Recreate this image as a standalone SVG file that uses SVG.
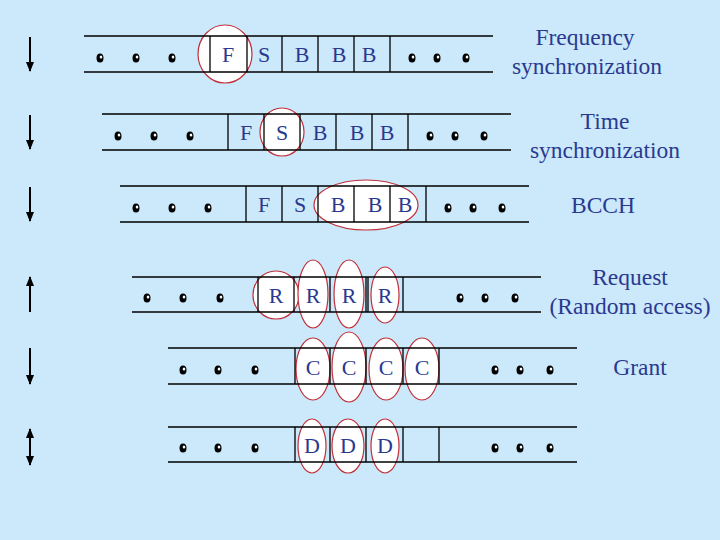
<svg xmlns="http://www.w3.org/2000/svg" width="720" height="540" viewBox="0 0 720 540">
<defs>
<style>
.ln{stroke:#000;stroke-width:1.3;fill:none}
.t{font-family:"Liberation Serif",serif;font-size:22px;fill:#2a3990;text-anchor:middle}
.lb{font-family:"Liberation Serif",serif;font-size:23.5px;fill:#2a3990;text-anchor:middle}
.c{fill:#fff;stroke:#c0303a;stroke-width:1.2}
.d{fill:#000}
</style>
<marker id="ah" viewBox="0 0 10 10" refX="9" refY="5" markerWidth="5" markerHeight="5" orient="auto-start-reverse"><path d="M0,1 L10,5 L0,9 Z" fill="#000"/></marker>
<g id="dot"><ellipse cx="0" cy="0" rx="3.5" ry="4.5" class="d"/><ellipse cx="1" cy="-1" rx="1.3" ry="1.5" fill="#fff"/></g>
</defs>
<rect width="720" height="540" fill="#cce8fb"/>
<g id="connectors" stroke="#000" stroke-width="2">
<line x1="30" y1="37" x2="30" y2="71" marker-end="url(#ah)"/>
<line x1="30" y1="115" x2="30" y2="149" marker-end="url(#ah)"/>
<line x1="30" y1="187" x2="30" y2="221" marker-end="url(#ah)"/>
<line x1="30" y1="312" x2="30" y2="277" marker-end="url(#ah)"/>
<line x1="30" y1="348" x2="30" y2="384" marker-end="url(#ah)"/>
<line x1="30" y1="429" x2="30" y2="465" marker-start="url(#ah)" marker-end="url(#ah)"/>
</g>
<g id="row1">
<ellipse class="c" cx="225" cy="54" rx="27" ry="29"/>
<path class="ln" d="M84,36H493M84,72H493M210,36V72M247,36V72M282,36V72M318,36V72M354,36V72M390,36V72"/>
<text class="t" x="228" y="62">F</text><text class="t" x="264" y="62">S</text><text class="t" x="302" y="62">B</text><text class="t" x="339" y="62">B</text><text class="t" x="369" y="62">B</text>
<use href="#dot" x="100" y="58"/><use href="#dot" x="136" y="58"/><use href="#dot" x="172" y="58"/><use href="#dot" x="412" y="58"/><use href="#dot" x="437" y="58"/><use href="#dot" x="466" y="58"/>
<text class="lb" x="585" y="45">Frequency</text><text class="lb" x="587" y="74">synchronization</text>
</g>
<g id="row2">
<ellipse class="c" cx="282" cy="132" rx="22" ry="24"/>
<path class="ln" d="M102,114H511M102,150H511M228,114V150M264,114V150M300,114V150M336,114V150M372,114V150M408,114V150"/>
<text class="t" x="246" y="140">F</text><text class="t" x="282" y="140">S</text><text class="t" x="320" y="140">B</text><text class="t" x="357" y="140">B</text><text class="t" x="387" y="140">B</text>
<use href="#dot" x="118" y="136"/><use href="#dot" x="154" y="136"/><use href="#dot" x="190" y="136"/><use href="#dot" x="430" y="136"/><use href="#dot" x="455" y="136"/><use href="#dot" x="484" y="136"/>
<text class="lb" x="605" y="129">Time</text><text class="lb" x="605" y="158">synchronization</text>
</g>
<g id="row3">
<ellipse class="c" cx="366" cy="205" rx="52" ry="25"/>
<path class="ln" d="M120,186H529M120,222H529M246,186V222M282,186V222M318,186V222M354,186V222M390,186V222M426,186V222"/>
<text class="t" x="264" y="212">F</text><text class="t" x="300" y="212">S</text><text class="t" x="338" y="212">B</text><text class="t" x="375" y="212">B</text><text class="t" x="405" y="212">B</text>
<use href="#dot" x="136" y="208"/><use href="#dot" x="172" y="208"/><use href="#dot" x="208" y="208"/><use href="#dot" x="448" y="208"/><use href="#dot" x="473" y="208"/><use href="#dot" x="502" y="208"/>
<text class="lb" x="603" y="213">BCCH</text>
</g>
<g id="row4">
<ellipse class="c" cx="276" cy="295" rx="23" ry="24"/>
<ellipse class="c" cx="313" cy="294" rx="15" ry="34"/>
<ellipse class="c" cx="349" cy="294" rx="15" ry="34"/>
<ellipse class="c" cx="385" cy="295" rx="14" ry="28"/>
<path class="ln" d="M132,277H541M132,312H541M258,277V312M294,277V312M330,277V312M366,277V312M368,277V312M403,277V312"/>
<text class="t" x="276" y="303">R</text><text class="t" x="313" y="303">R</text><text class="t" x="349" y="303">R</text><text class="t" x="385" y="303">R</text>
<use href="#dot" x="147" y="298"/><use href="#dot" x="183" y="298"/><use href="#dot" x="220" y="298"/><use href="#dot" x="460" y="298"/><use href="#dot" x="485" y="298"/><use href="#dot" x="515" y="298"/>
<text class="lb" x="630" y="285">Request</text><text class="lb" x="630" y="314">(Random access)</text>
</g>
<g id="row5">
<ellipse class="c" cx="313" cy="369" rx="17" ry="31"/>
<ellipse class="c" cx="349" cy="367" rx="17" ry="35"/>
<ellipse class="c" cx="386" cy="369" rx="17" ry="31"/>
<ellipse class="c" cx="422" cy="369" rx="17" ry="31"/>
<path class="ln" d="M168,348H577M168,384H577M295,348V384M330,348V384M366,348V384M403,348V384M439,348V384"/>
<text class="t" x="313" y="375">C</text><text class="t" x="349" y="375">C</text><text class="t" x="386" y="375">C</text><text class="t" x="422" y="375">C</text>
<use href="#dot" x="183" y="370"/><use href="#dot" x="218" y="370"/><use href="#dot" x="255" y="370"/><use href="#dot" x="495" y="370"/><use href="#dot" x="520" y="370"/><use href="#dot" x="550" y="370"/>
<text class="lb" x="640" y="375">Grant</text>
</g>
<g id="row6">
<ellipse class="c" cx="312" cy="446" rx="14" ry="27"/>
<ellipse class="c" cx="348" cy="446" rx="16" ry="27"/>
<ellipse class="c" cx="385" cy="446" rx="14" ry="27"/>
<path class="ln" d="M168,427H577M168,462H577M295,427V462M330,427V462M366,427V462M403,427V462M439,427V462"/>
<text class="t" x="312" y="453">D</text><text class="t" x="348" y="453">D</text><text class="t" x="385" y="453">D</text>
<use href="#dot" x="183" y="448"/><use href="#dot" x="218" y="448"/><use href="#dot" x="255" y="448"/><use href="#dot" x="495" y="448"/><use href="#dot" x="520" y="448"/><use href="#dot" x="550" y="448"/>
</g>
</svg>
